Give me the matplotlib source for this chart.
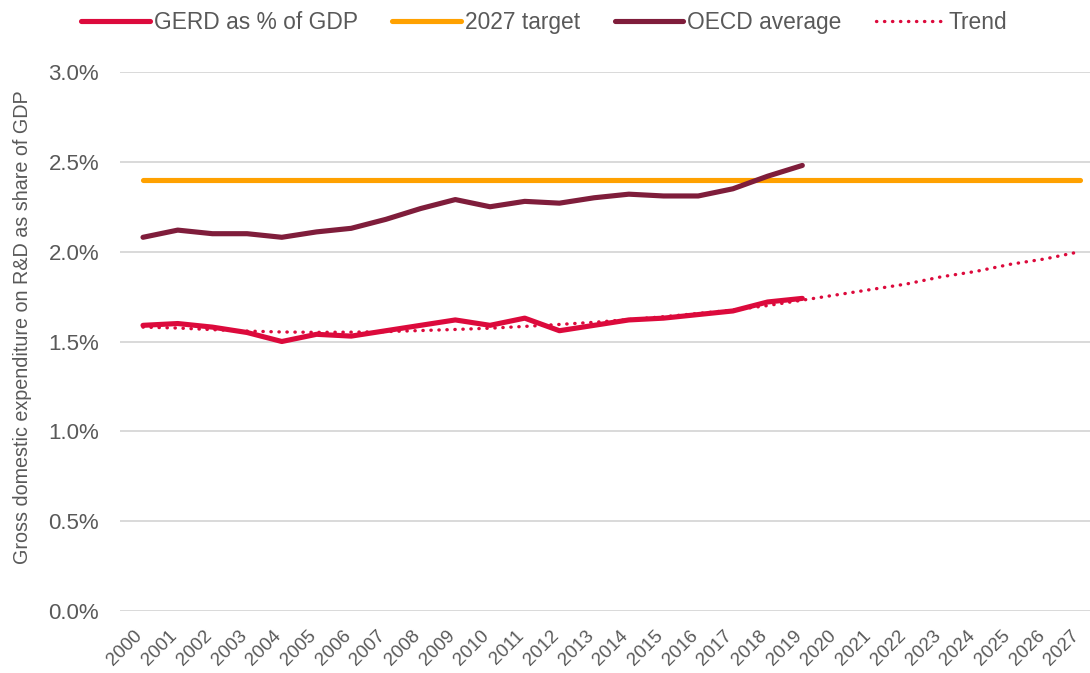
import matplotlib
matplotlib.use("Agg")
import matplotlib.pyplot as plt
from matplotlib.ticker import FuncFormatter

plt.rcParams['font.family'] = ['Liberation Sans', 'DejaVu Sans']

years = [str(y) for y in range(2000, 2028)]
gerd = [1.59, 1.60, 1.58, 1.55, 1.50, 1.54, 1.53, 1.56, 1.59, 1.62,
        1.59, 1.63, 1.56, 1.59, 1.62, 1.63, 1.65, 1.67, 1.72, 1.74]
target = [2.40] * 28
oecd = [2.08, 2.12, 2.10, 2.10, 2.08, 2.11, 2.13, 2.18, 2.24, 2.29,
        2.25, 2.28, 2.27, 2.30, 2.32, 2.31, 2.31, 2.35, 2.42, 2.48]
trend = [1.58, 1.575, 1.566, 1.558, 1.553, 1.551, 1.552, 1.555, 1.561, 1.567,
         1.574, 1.584, 1.595, 1.607, 1.622, 1.638, 1.656, 1.675, 1.70, 1.73,
         1.76, 1.79, 1.82, 1.86, 1.89, 1.93, 1.96, 2.00]
yticks = [0.0, 0.5, 1.0, 1.5, 2.0, 2.5, 3.0]

RED = '#DC0A3C'
ORANGE = '#FFA100'
MAROON = '#7F1D3B'
GREY = '#595959'

fig = plt.figure(figsize=(10.9, 6.73), dpi=100)
ax = fig.add_axes([120/1090, 62/673, 970/1090, 539/673])

x_all = list(range(len(years)))
ax.plot(x_all[:len(gerd)], gerd, color=RED, lw=3.7, solid_capstyle='round',
        solid_joinstyle='round', label='GERD as % of GDP', zorder=4)
ax.plot(x_all, target, color=ORANGE, lw=3.7, solid_capstyle='round',
        label='2027 target', zorder=3)
ax.plot(x_all[:len(oecd)], oecd, color=MAROON, lw=3.7, solid_capstyle='round',
        solid_joinstyle='round', label='OECD average', zorder=3)
ax.plot(x_all, trend, color=RED, lw=2.4, linestyle=(0, (0.1, 2.3)),
        dash_capstyle='round', label='Trend', zorder=5)

ax.set_xlim(-0.663, 27.29)
ax.set_ylim(0, 3.0)
ax.set_yticks(yticks)
ax.yaxis.set_major_formatter(FuncFormatter(lambda v, p: f"{v:.1f}%"))
ax.set_xticks(x_all)
ax.set_xticklabels(years, rotation=45, ha='right', va='baseline',
                   rotation_mode='anchor')
ax.grid(axis='y', color='#D9D9D9', lw=1.4)
ax.set_axisbelow(True)
for s in ax.spines.values():
    s.set_visible(False)
ax.tick_params(axis='both', length=0)
ax.tick_params(axis='y', labelsize=16, labelcolor=GREY, pad=15)
ax.tick_params(axis='x', labelsize=13.5, labelcolor=GREY, pad=18.5)

ax.set_ylabel('Gross domestic expenditure on R&D as share of GDP',
              fontsize=14.2, color=GREY)
ax.yaxis.set_label_coords(-0.1, 0.527)
ax.yaxis.label.set_va('center')

leg = fig.legend(loc='center', bbox_to_anchor=(0.4995, 0.967), ncol=4,
                 frameon=False, fontsize=16.4, handlelength=3.0,
                 handletextpad=0.2, columnspacing=1.5, labelcolor=GREY)

fig.savefig('out.png', dpi=100)
